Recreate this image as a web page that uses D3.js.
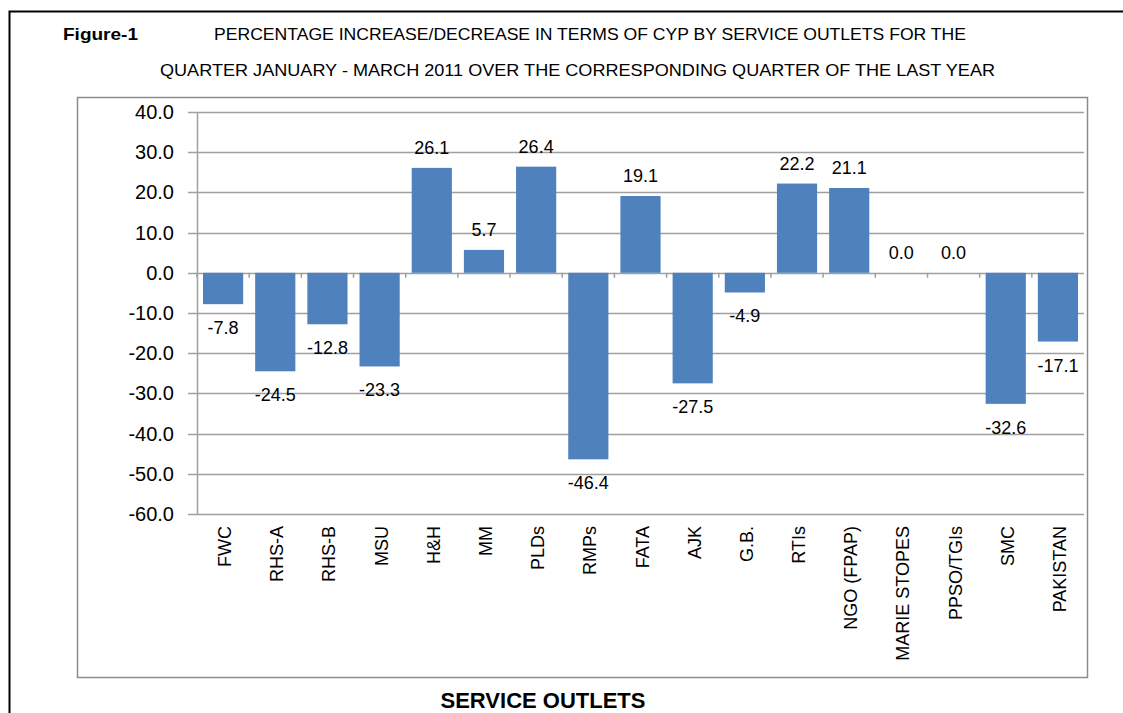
<!DOCTYPE html>
<html>
<head>
<meta charset="utf-8">
<script src="https://cdn.jsdelivr.net/npm/d3@7"></script>
<style>
  body { margin: 0; background: #fff; }
  svg { display: block; font-family: "Liberation Sans", Arial, sans-serif; }
</style>
</head>
<body>
<div id="chart"></div>
<script>
let categories = ["FWC", "RHS-A", "RHS-B", "MSU", "H&H", "MM", "PLDs", "RMPs", "FATA", "AJK",
  "G.B.", "RTIs", "NGO (FPAP)", "MARIE STOPES", "PPSO/TGIs", "SMC", "PAKISTAN"];
let values = [-7.8, -24.5, -12.8, -23.3, 26.1, 5.7, 26.4, -46.4, 19.1, -27.5,
  -4.9, 22.2, 21.1, 0.0, 0.0, -32.6, -17.1];
let yTicks = [40, 30, 20, 10, 0, -10, -20, -30, -40, -50, -60];

let barColour = "#4f81bd";
let gridColour = "#a0a0a0";

const width = 1123, height = 713;
const plot = { left: 197, right: 1084, top: 112, bottom: 514 };

// excel style: plain hyphen for negatives
let fmt = d => d.toFixed(1);

var svg = d3.select("#chart").append("svg")
    .attr("width", width)
    .attr("height", height);

// outer page frame
svg.append("path")
    .attr("d", "M9.5,713 L9.5,11.5 L1123,11.5")
    .attr("fill", "none")
    .attr("stroke", "#000")
    .attr("stroke-width", 2);

// chart area box
svg.append("rect")
    .attr("x", 77.5).attr("y", 97.5)
    .attr("width", 1010).attr("height", 580)
    .attr("fill", "none")
    .attr("stroke", "#8c8c8c")
    .attr("stroke-width", 1.5);

// titles
svg.append("text")
    .attr("x", 63).attr("y", 40)
    .attr("font-weight", "bold").attr("font-size", 17)
    .attr("textLength", 75).attr("lengthAdjust", "spacingAndGlyphs")
    .text("Figure-1");

svg.append("text")
    .attr("x", 214).attr("y", 40)
    .attr("font-size", 17)
    .attr("textLength", 752).attr("lengthAdjust", "spacingAndGlyphs")
    .text("PERCENTAGE INCREASE/DECREASE IN TERMS OF CYP BY SERVICE OUTLETS FOR THE");

svg.append("text")
    .attr("x", 160).attr("y", 76)
    .attr("font-size", 17)
    .attr("textLength", 835).attr("lengthAdjust", "spacingAndGlyphs")
    .text("QUARTER JANUARY - MARCH 2011 OVER THE CORRESPONDING QUARTER OF THE LAST YEAR");

var x = d3.scaleBand()
    .domain(categories)
    .range([plot.left, plot.right])
    .paddingInner(0.23)
    .paddingOuter(0.115);

var y = d3.scaleLinear()
    .domain([-60, 40])
    .range([plot.bottom, plot.top]);

// gridlines
svg.append("g")
    .selectAll("line")
    .data(yTicks)
    .enter().append("line")
    .attr("x1", plot.left - 9)
    .attr("x2", plot.right)
    .attr("y1", d => Math.round(y(d)) + 0.5)
    .attr("y2", d => Math.round(y(d)) + 0.5)
    .attr("stroke", gridColour)
    .attr("stroke-width", 1.5);

// y labels
svg.append("g")
    .selectAll("text")
    .data(yTicks)
    .enter().append("text")
    .attr("x", 174)
    .attr("y", d => y(d) + 7)
    .attr("text-anchor", "end")
    .attr("font-size", 20)
    .text(fmt);

// left axis line
svg.append("line")
    .attr("x1", plot.left + 0.5).attr("x2", plot.left + 0.5)
    .attr("y1", plot.top).attr("y2", plot.bottom)
    .attr("stroke", gridColour)
    .attr("stroke-width", 1.5);

// bars
svg.append("g")
    .selectAll("rect")
    .data(values)
    .enter().append("rect")
    .attr("x", (d, i) => x(categories[i]))
    .attr("width", x.bandwidth())
    .attr("y", d => y(Math.max(0, d)))
    .attr("height", d => Math.abs(y(d) - y(0)))
    .attr("fill", barColour);

// category ticks on zero line
let step = x.step();
svg.append("g")
    .selectAll("line")
    .data(categories)
    .enter().append("line")
    .attr("x1", d => x(d) - step * 0.115)
    .attr("x2", d => x(d) - step * 0.115)
    .attr("y1", y(0))
    .attr("y2", y(0) + 5)
    .attr("stroke", gridColour)
    .attr("stroke-width", 1.5);

// value labels
svg.append("g")
    .selectAll("text")
    .data(values)
    .enter().append("text")
    .attr("x", (d, i) => x(categories[i]) + x.bandwidth() / 2)
    .attr("y", d => d < 0 ? y(d) + 30 : y(d) - 14)
    .attr("text-anchor", "middle")
    .attr("font-size", 18)
    .text(fmt);

// x labels, rotated
svg.append("g")
    .selectAll("text")
    .data(categories)
    .enter().append("text")
    .attr("transform", d => "translate(" + (x(d) + x.bandwidth() / 2 + 8) + "," + (plot.bottom + 12) + ") rotate(-90)")
    .attr("text-anchor", "end")
    .attr("font-size", 18)
    .text(d => d);

// axis title
svg.append("text")
    .attr("x", 543).attr("y", 708)
    .attr("text-anchor", "middle")
    .attr("font-weight", "bold")
    .attr("font-size", 22)
    .text("SERVICE OUTLETS");
</script>
</body>
</html>
